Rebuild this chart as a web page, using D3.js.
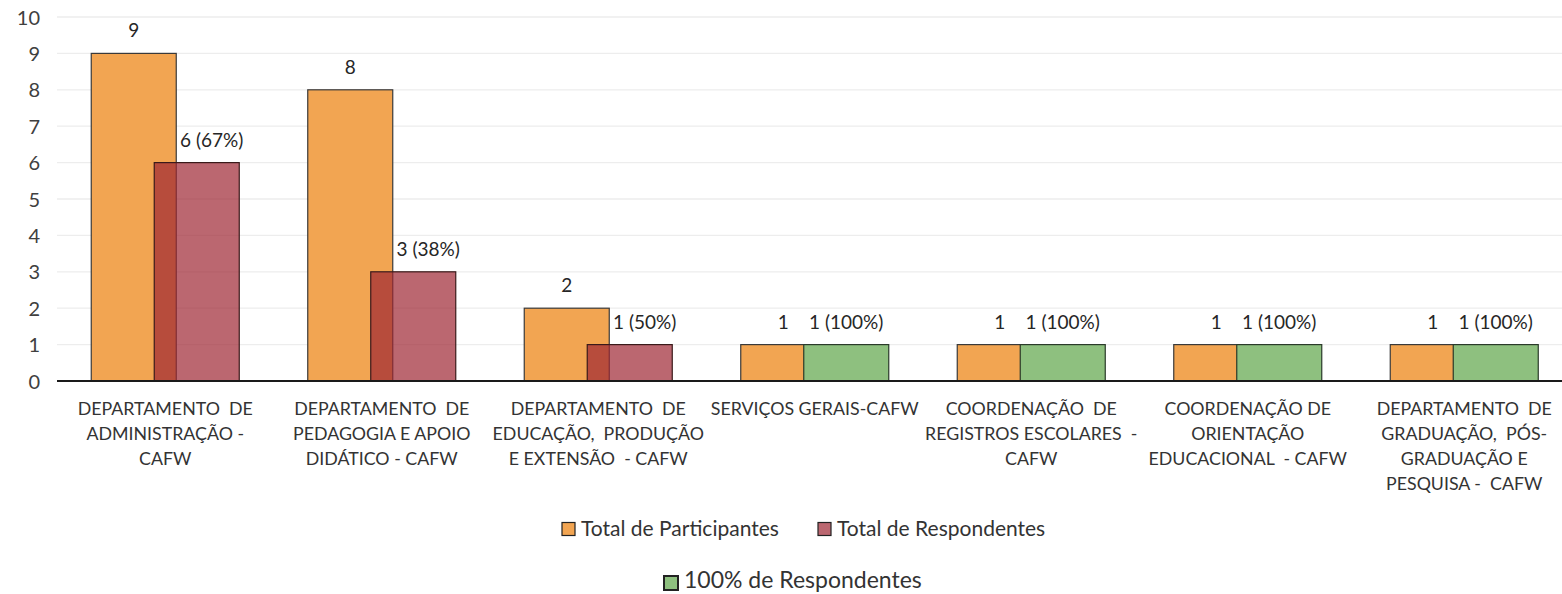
<!DOCTYPE html>
<html><head><meta charset="utf-8">
<script src="https://cdn.jsdelivr.net/npm/d3@7"></script>
<style>
body{margin:0;background:#fff;}
svg text{font-family:Lato,"Open Sans",sans-serif;white-space:pre;}
</style></head>
<body><svg id="c" width="1562" height="594"></svg>
<script>
const categories = [
  ["DEPARTAMENTO  DE","ADMINISTRAÇÃO -","CAFW"],
  ["DEPARTAMENTO  DE","PEDAGOGIA E APOIO","DIDÁTICO - CAFW"],
  ["DEPARTAMENTO  DE","EDUCAÇÃO,  PRODUÇÃO","E EXTENSÃO  - CAFW"],
  ["SERVIÇOS GERAIS-CAFW"],
  ["COORDENAÇÃO  DE","REGISTROS ESCOLARES  -","CAFW"],
  ["COORDENAÇÃO DE","ORIENTAÇÃO","EDUCACIONAL  - CAFW"],
  ["DEPARTAMENTO  DE","GRADUAÇÃO,  PÓS-","GRADUAÇÃO E","PESQUISA -  CAFW"]
];
const totalParticipantes = [9, 8, 2, 1, 1, 1, 1];
const totalRespondentes = [6, 3, 1, null, null, null, null];
const respondentesPct = ["67%", "38%", "50%", null, null, null, null];
const cemPorCento = [null, null, null, 1, 1, 1, 1];
const cemLabels = [null, null, null, "100%", "100%", "100%", "100%"];
const yTicks = [0,1,2,3,4,5,6,7,8,9,10];
const seriesNames = ["Total de Participantes","Total de Respondentes","100% de Respondentes"];

const svg = d3.select("#c");
const idx = d3.range(categories.length);
const x = d3.scaleBand().domain(idx).range([57, 1572.5]).paddingInner(0).paddingOuter(0);
const y = d3.scaleLinear().domain([0,10]).range([381, 17]);
const bw = 85, shift = 63;
const colOrange = "#F2A552", colRed = "#9E2633", colGreen = "#8EC07F";

// gridlines
svg.append("g").selectAll("line").data(yTicks.filter(d=>d>0)).join("line")
  .attr("x1",57).attr("x2",1562).attr("y1",d=>y(d)).attr("y2",d=>y(d))
  .attr("stroke","#EDEDED").attr("stroke-width",1.3);

// y axis labels
const yAxis = d3.axisLeft(y).tickValues(yTicks).tickSize(0).tickPadding(0);
const ga = svg.append("g").attr("transform","translate(40,0)").call(yAxis);
ga.select(".domain").remove();
ga.selectAll("text").attr("font-size",20).attr("fill","#404040").attr("dy","0.35em")
  .style("font-family","Lato,'Open Sans',sans-serif");

const cx = i => x(i) + x.bandwidth()/2;
const ox = i => cx(i) - (bw + shift)/2;

// orange
svg.append("g").selectAll("rect").data(idx).join("rect")
  .attr("x",i=>ox(i)).attr("width",bw)
  .attr("y",i=>y(totalParticipantes[i])).attr("height",i=>y(0)-y(totalParticipantes[i]))
  .attr("fill",colOrange).attr("stroke","#3a3a3a").attr("stroke-width",1.2);
// red (semi transparent)
svg.append("g").selectAll("rect").data(idx.filter(i=>totalRespondentes[i]!=null)).join("rect")
  .attr("x",i=>ox(i)+shift).attr("width",bw)
  .attr("y",i=>y(totalRespondentes[i])).attr("height",i=>y(0)-y(totalRespondentes[i]))
  .attr("fill",colRed).attr("fill-opacity",0.7).attr("stroke","#3a1a1a").attr("stroke-width",1.2);
// green
svg.append("g").selectAll("rect").data(idx.filter(i=>cemPorCento[i]!=null)).join("rect")
  .attr("x",i=>ox(i)+shift).attr("width",bw)
  .attr("y",i=>y(cemPorCento[i])).attr("height",i=>y(0)-y(cemPorCento[i]))
  .attr("fill",colGreen).attr("stroke","#2a3a2a").attr("stroke-width",1.2);

// x axis line
svg.append("line").attr("x1",57).attr("x2",1562).attr("y1",y(0)).attr("y2",y(0))
  .attr("stroke","#1a1a1a").attr("stroke-width",2);

// data labels
const lab = svg.append("g").attr("font-size",19).attr("fill","#262626").attr("text-anchor","middle");
lab.selectAll(".lo").data(idx).join("text").attr("class","lo")
  .attr("x",i=>ox(i)+bw/2).attr("y",i=>y(totalParticipantes[i])-16)
  .text(i=>totalParticipantes[i]);
lab.selectAll(".lr").data(idx.filter(i=>totalRespondentes[i]!=null)).join("text").attr("class","lr")
  .attr("x",i=>ox(i)+shift+bw/2+15).attr("y",i=>y(totalRespondentes[i])-16)
  .text(i=>totalRespondentes[i]+" ("+respondentesPct[i]+")");
lab.selectAll(".lg").data(idx.filter(i=>cemPorCento[i]!=null)).join("text").attr("class","lg")
  .attr("x",i=>ox(i)+shift+bw/2).attr("y",i=>y(cemPorCento[i])-16)
  .text(i=>cemPorCento[i]+" ("+cemLabels[i]+")");

// category labels
const cl = svg.append("g").attr("font-size",17.8).attr("fill","#333").attr("text-anchor","middle");
idx.forEach(i=>{
  categories[i].forEach((ln,k)=>{
    cl.append("text").attr("x",cx(i)).attr("y",415+k*25).text(ln);
  });
});

// legend
const leg = svg.append("g").attr("fill","#333");
const legItems = [
  {name:seriesNames[0],col:colOrange,op:1,x:562,y:529,ty:529,fs:21,s:13,sw:1.2},
  {name:seriesNames[1],col:colRed,op:0.7,x:818,y:529,ty:529,fs:21,s:13,sw:1.2},
  {name:seriesNames[2],col:colGreen,op:1,x:664,y:583,ty:580,fs:23,s:14,sw:2}
];
legItems.forEach(d=>{
  leg.append("rect").attr("x",d.x).attr("y",d.y-d.s/2).attr("width",d.s).attr("height",d.s)
    .attr("fill",d.col).attr("fill-opacity",d.op).attr("stroke","#222").attr("stroke-width",d.sw);
  leg.append("text").attr("x",d.x+d.s+6).attr("y",d.ty).attr("dy","0.35em")
    .attr("font-size",d.fs).text(d.name);
});
</script></body></html>
